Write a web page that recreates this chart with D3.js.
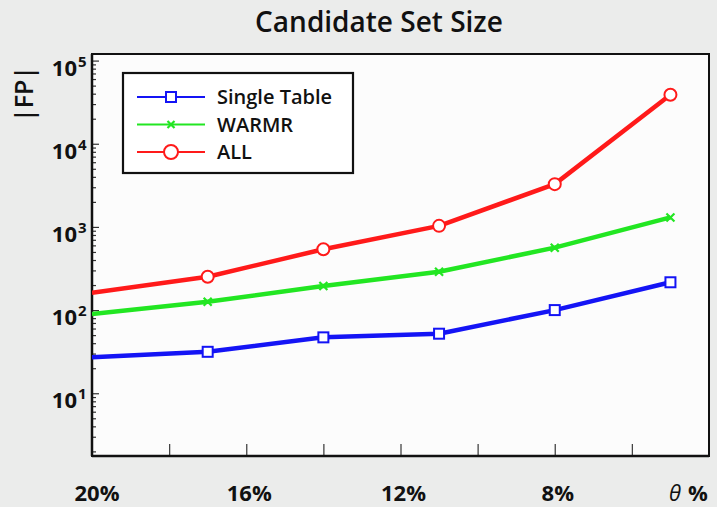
<!DOCTYPE html>
<html>
<head>
<meta charset="utf-8">
<script src="https://cdn.jsdelivr.net/npm/d3@7"></script>
<style>
  html, body { margin: 0; padding: 0; background: #ebeceb; }
  svg { display: block; font-family: "Open Sans", "DejaVu Sans", sans-serif; }
</style>
</head>
<body>
<svg id="chart" width="717" height="507"></svg>
<script>
// Minimum support threshold θ (%) on the x axis
const thresholds = [20, 17, 14, 11, 8, 5];

// |FP| — size of the candidate set at each threshold
const singleTable = [27, 31.5, 47, 52, 100, 216];
const warmr = [90, 126, 195, 289, 563, 1300];
const allFeatures = [162, 252, 538, 1030, 3270, 38900];

const seriesNames = ["Single Table", "WARMR", "ALL"];
const seriesColors = ["#1414f5", "#22e622", "#ff1a1a"];
const seriesMarkers = ["square", "cross", "circle"];

const xTickValues = [18, 16, 14, 12, 10, 8, 6];
const xLabelValues = [20, 16, 12, 8];
const yMajorTicks = [10, 100, 1000, 10000, 100000];

const svg = d3.select("#chart");
const margin = { left: 92, right: 8, top: 54, bottom: 51 };
const W = 717, H = 507;
const plotW = W - margin.left - margin.right;
const plotH = H - margin.top - margin.bottom;

const x = d3.scaleLinear().domain([20, 4]).range([margin.left, margin.left + plotW]);
const y = d3.scaleLog().domain([1.76, 1.2e5]).range([margin.top + plotH, margin.top]);

// plot background
svg.append("rect")
  .attr("x", margin.left).attr("y", margin.top)
  .attr("width", plotW).attr("height", plotH)
  .attr("fill", "#fcfcfc").attr("stroke", "#111").attr("stroke-width", 2);

svg.append("clipPath").attr("id", "plotClip")
  .append("rect")
  .attr("x", margin.left).attr("y", margin.top)
  .attr("width", plotW).attr("height", plotH);

// title
svg.append("text")
  .attr("x", 379).attr("y", 32)
  .attr("text-anchor", "middle")
  .attr("font-size", 28).attr("font-weight", 600)
  .attr("fill", "#111")
  .text("Candidate Set Size");

// y axis: minor + major ticks pointing inwards
const minorTicks = y.ticks().filter(v => !yMajorTicks.includes(v));
const yMinor = svg.append("g")
  .attr("transform", `translate(${margin.left},0)`)
  .call(d3.axisLeft(y).tickValues(minorTicks).tickSize(-4).tickFormat(""));
const yMajor = svg.append("g")
  .attr("transform", `translate(${margin.left},0)`)
  .call(d3.axisLeft(y).tickValues(yMajorTicks).tickSize(-7).tickFormat(""));
[yMinor, yMajor].forEach(g => {
  g.select(".domain").remove();
  g.selectAll(".tick line").attr("stroke", "#333").attr("stroke-width", 1.2);
});

// y tick labels: 10 with superscript exponent
svg.append("g").selectAll("text")
  .data(yMajorTicks)
  .join("text")
  .attr("x", 77)
  .attr("y", d => y(d) + 15)
  .attr("text-anchor", "end")
  .attr("font-size", 22).attr("font-weight", 700)
  .attr("fill", "#111")
  .text("10");
svg.append("g").selectAll("text")
  .data(yMajorTicks)
  .join("text")
  .attr("x", 78)
  .attr("y", d => y(d) + 6)
  .attr("font-size", 15).attr("font-weight", 700)
  .attr("fill", "#111")
  .text(d => Math.round(Math.log10(d)));

// y axis title
svg.append("text")
  .attr("transform", "translate(33,94) rotate(-90)")
  .attr("text-anchor", "middle")
  .attr("font-size", 25).attr("font-weight", 600)
  .attr("fill", "#111")
  .text("|FP|");

// x axis ticks pointing inwards
const xAxis = svg.append("g")
  .attr("transform", `translate(0,${margin.top + plotH})`)
  .call(d3.axisBottom(x).tickValues(xTickValues).tickSize(-12).tickFormat(""));
xAxis.select(".domain").remove();
xAxis.selectAll(".tick line").attr("stroke", "#444").attr("stroke-width", 1.3);

// x labels
svg.append("g").selectAll("text")
  .data(xLabelValues)
  .join("text")
  .attr("x", d => x(d) + (d === 20 ? 5 : 3))
  .attr("y", 501)
  .attr("text-anchor", "middle")
  .attr("font-size", 22).attr("font-weight", 700)
  .attr("fill", "#111")
  .text(d => d + "%");
const thetaLabel = svg.append("text")
  .attr("x", 669).attr("y", 501)
  .attr("fill", "#111");
thetaLabel.append("tspan")
  .attr("font-size", 22).attr("font-style", "italic").attr("font-weight", 400)
  .text("θ");
thetaLabel.append("tspan")
  .attr("dx", 7)
  .attr("font-size", 22).attr("font-weight", 700)
  .text("%");

// axis spines (left + bottom heavier)
svg.append("line")
  .attr("x1", margin.left).attr("x2", margin.left)
  .attr("y1", margin.top).attr("y2", margin.top + plotH)
  .attr("stroke", "#111").attr("stroke-width", 2.5);
svg.append("line")
  .attr("x1", margin.left).attr("x2", margin.left + plotW)
  .attr("y1", margin.top + plotH).attr("y2", margin.top + plotH)
  .attr("stroke", "#111").attr("stroke-width", 2.5);

// marker drawing helper
function drawMarker(sel, type, color, size) {
  if (type === "square") {
    sel.append("rect")
      .attr("x", -size / 2).attr("y", -size / 2)
      .attr("width", size).attr("height", size)
      .attr("fill", "#fff").attr("stroke", color).attr("stroke-width", 2);
  } else if (type === "circle") {
    sel.append("circle")
      .attr("r", size / 2)
      .attr("fill", "#fff").attr("stroke", color).attr("stroke-width", 2);
  } else {
    const h = size / 2;
    sel.append("path")
      .attr("d", `M${-h},${-h}L${h},${h}M${-h},${h}L${h},${-h}`)
      .attr("stroke", color).attr("stroke-width", 2.2).attr("fill", "none");
  }
}

const allSeries = [singleTable, warmr, allFeatures];
const line = d3.line().x(d => x(d[0])).y(d => y(d[1]));
const plotG = svg.append("g").attr("clip-path", "url(#plotClip)");

allSeries.forEach((vals, i) => {
  const pts = thresholds.map((t, j) => [t, vals[j]]);
  plotG.append("path")
    .datum(pts)
    .attr("d", line)
    .attr("fill", "none")
    .attr("stroke", seriesColors[i])
    .attr("stroke-width", 4.5)
    .attr("stroke-linejoin", "round");
  // markers at the sampled thresholds below the starting 20%
  const markerSize = seriesMarkers[i] === "square" ? 10 : (seriesMarkers[i] === "circle" ? 12 : 8);
  plotG.selectAll(null)
    .data(pts.slice(1))
    .join("g")
    .attr("transform", d => `translate(${x(d[0])},${y(d[1])})`)
    .each(function () { drawMarker(d3.select(this), seriesMarkers[i], seriesColors[i], markerSize); });
});

// legend
const legend = svg.append("g");
legend.append("rect")
  .attr("x", 123).attr("y", 73).attr("width", 230).attr("height", 100)
  .attr("fill", "#fff").attr("stroke", "#111").attr("stroke-width", 2.2);
seriesNames.forEach((name, i) => {
  const cy = 97 + i * 27.5;
  const row = legend.append("g");
  row.append("line")
    .attr("x1", 137).attr("x2", 205).attr("y1", cy).attr("y2", cy)
    .attr("stroke", seriesColors[i]).attr("stroke-width", 2);
  const mSize = seriesMarkers[i] === "square" ? 10 : (seriesMarkers[i] === "circle" ? 14 : 7);
  drawMarker(row.append("g").attr("transform", `translate(171,${cy})`), seriesMarkers[i], seriesColors[i], mSize);
  row.append("text")
    .attr("x", 217).attr("y", cy + 7)
    .attr("font-size", 20).attr("font-weight", 600)
    .attr("fill", "#111")
    .text(name);
});
</script>
</body>
</html>
